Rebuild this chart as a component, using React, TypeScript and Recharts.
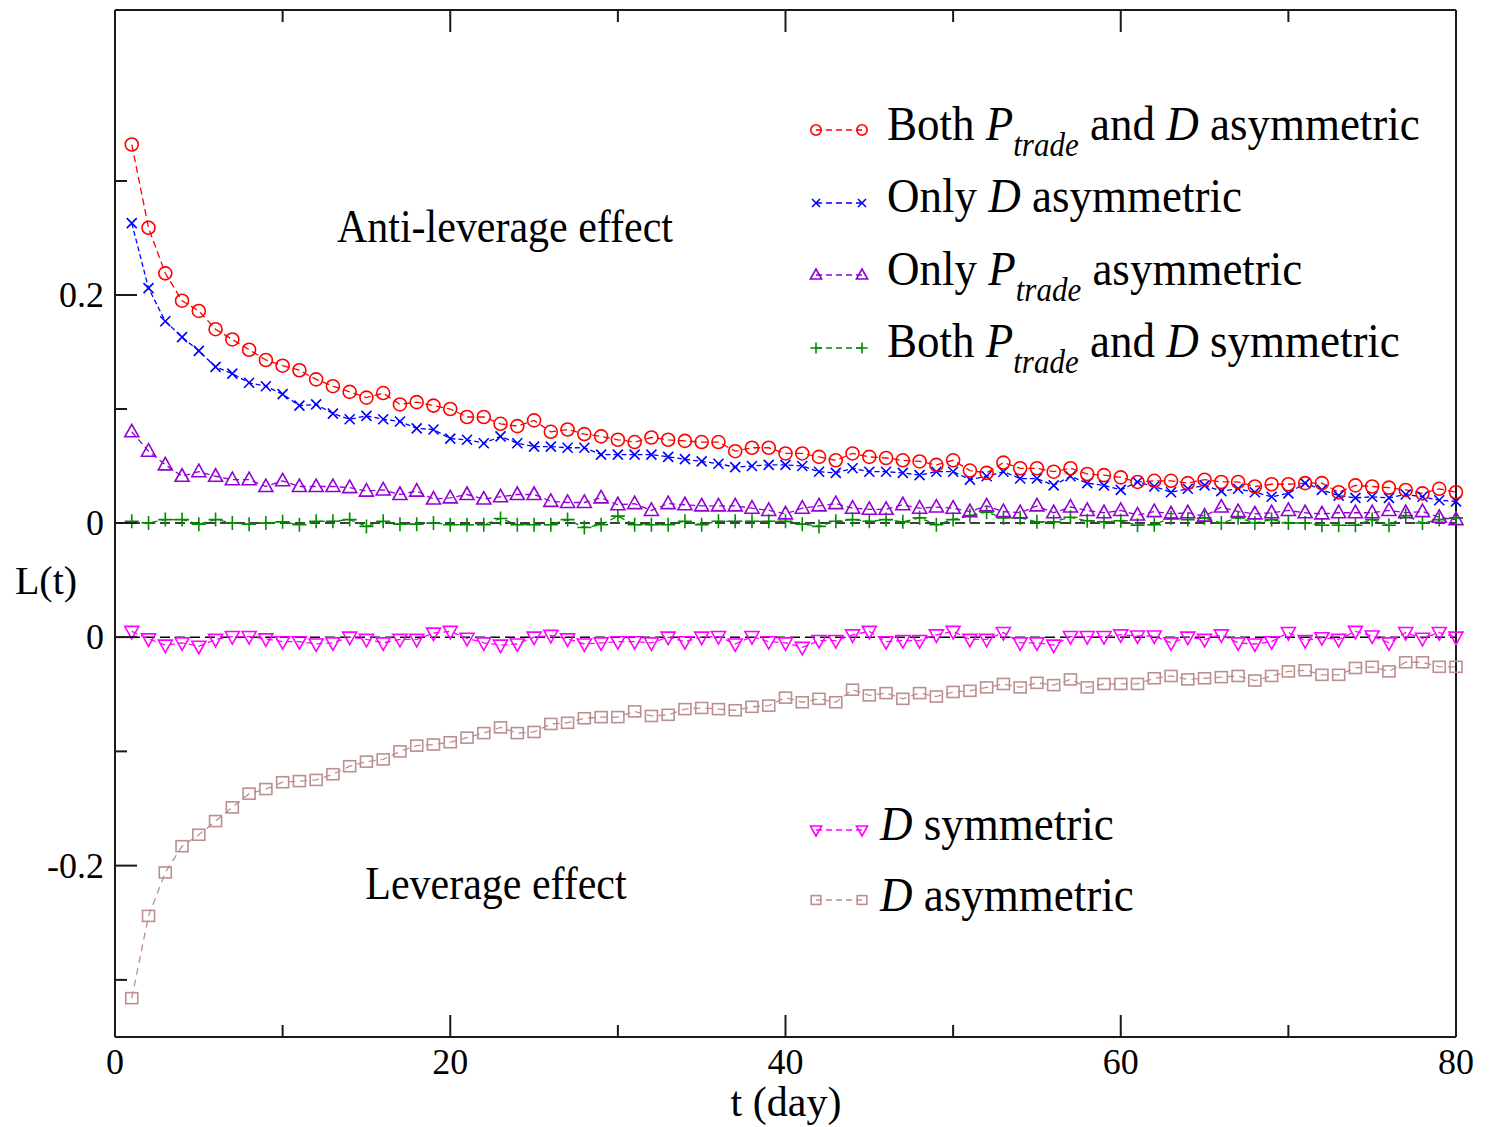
import React from "react";
import { LineChart, Line, XAxis, YAxis, ReferenceLine } from "recharts";

// t in days
const DAYS = Array.from({ length: 80 }, (_, i) => i + 1);

// upper panel
const BOTH_ASYM = [
  0.332, 0.259, 0.219, 0.195, 0.186, 0.17, 0.161, 0.152, 0.143, 0.138,
  0.134, 0.126, 0.12, 0.115, 0.11, 0.114, 0.104, 0.106, 0.103, 0.1,
  0.093, 0.093, 0.087, 0.085, 0.09, 0.08, 0.082, 0.078, 0.076, 0.073,
  0.071, 0.075, 0.073, 0.072, 0.071, 0.071, 0.063, 0.066, 0.066, 0.061,
  0.061, 0.058, 0.055, 0.061, 0.058, 0.057, 0.055, 0.054, 0.051, 0.055,
  0.046, 0.044, 0.053, 0.048, 0.048, 0.045, 0.048, 0.043, 0.042, 0.04,
  0.036, 0.037, 0.037, 0.035, 0.038, 0.036, 0.036, 0.032, 0.034, 0.034,
  0.035, 0.035, 0.027, 0.033, 0.032, 0.031, 0.029, 0.026, 0.03, 0.027,
];
const ONLY_D_ASYM = [
  0.263, 0.206, 0.177, 0.163, 0.151, 0.137, 0.131, 0.123, 0.12, 0.113,
  0.103, 0.104, 0.096, 0.091, 0.094, 0.091, 0.089, 0.083, 0.082, 0.074,
  0.073, 0.07, 0.076, 0.07, 0.067, 0.067, 0.066, 0.066, 0.06, 0.06,
  0.06, 0.06, 0.058, 0.056, 0.054, 0.052, 0.049, 0.05, 0.051, 0.051,
  0.05, 0.045, 0.044, 0.048, 0.045, 0.045, 0.044, 0.042, 0.045, 0.045,
  0.038, 0.041, 0.045, 0.039, 0.039, 0.033, 0.041, 0.035, 0.033, 0.029,
  0.036, 0.032, 0.027, 0.03, 0.033, 0.028, 0.03, 0.027, 0.023, 0.026,
  0.035, 0.029, 0.024, 0.022, 0.023, 0.022, 0.025, 0.023, 0.02, 0.019,
];
const ONLY_P_ASYM = [
  0.08, 0.063, 0.051, 0.041, 0.045, 0.041, 0.038, 0.038, 0.032, 0.037,
  0.032, 0.032, 0.032, 0.031, 0.028, 0.029, 0.025, 0.028, 0.021, 0.022,
  0.025, 0.021, 0.023, 0.025, 0.025, 0.019, 0.018, 0.018, 0.022, 0.016,
  0.017, 0.011, 0.017, 0.016, 0.015, 0.015, 0.015, 0.013, 0.011, 0.008,
  0.013, 0.015, 0.017, 0.013, 0.012, 0.012, 0.016, 0.013, 0.014, 0.013,
  0.01, 0.015, 0.01, 0.009, 0.015, 0.009, 0.014, 0.011, 0.009, 0.011,
  0.007, 0.01, 0.008, 0.009, 0.006, 0.014, 0.01, 0.008, 0.009, 0.011,
  0.009, 0.008, 0.009, 0.009, 0.009, 0.011, 0.009, 0.01, 0.005, 0.003,
];
const BOTH_SYM = [
  0.0015, 0, 0.003, 0.003, -0.001, 0.003, 0, -0.001, 0, 0.001,
  -0.0015, 0.0015, 0.0015, 0.003, -0.003, 0.0015, -0.001, -0.001, 0, -0.0015,
  -0.0015, -0.0015, 0.004, -0.0015, -0.0015, -0.0015, 0.003, -0.004, -0.0015, 0.006,
  -0.0015, -0.0015, -0.0015, 0.0015, -0.0015, 0.0015, 0.0015, 0.0015, 0.0015, 0.0015,
  -0.001, -0.003, 0.0015, 0.003, 0.0015, 0.003, 0.001, 0.0045, -0.0015, 0.003,
  0.0065, 0.0095, 0.0045, 0.0045, 0.001, 0.001, 0.005, 0.002, 0.001, 0.002,
  -0.002, -0.0015, 0.0045, 0.003, 0.0045, 0, 0.0045, 0, 0.003, 0,
  0, -0.002, -0.002, -0.002, 0.003, -0.002, 0.0065, 0, 0.003, 0.0045,
];

// lower panel
const D_SYM = [
  0.005, -0.0015, -0.007, -0.005, -0.008, -0.002, 0.0005, 0.0005, -0.0015, -0.004,
  -0.004, -0.006, -0.005, 0, -0.002, -0.005, -0.002, -0.002, 0.0035, 0.005,
  -0.001, -0.005, -0.007, -0.006, 0, 0.0015, -0.0015, -0.006, -0.005, -0.004,
  -0.004, -0.005, 0, -0.004, 0, 0.0005, -0.006, 0.0005, -0.004, -0.005,
  -0.009, -0.003, -0.003, 0.002, 0.005, -0.004, -0.003, -0.003, 0.002, 0.005,
  -0.002, -0.002, 0.004, -0.005, -0.005, -0.007, 0.0005, 0.0005, 0.0005, 0.002,
  0.001, 0.001, -0.005, 0, -0.002, 0.002, -0.005, -0.006, -0.004, 0.004,
  -0.003, -0.0005, -0.002, 0.005, 0.001, -0.005, 0.004, -0.001, 0.004, 0,
];
const D_ASYM = [
  -0.316, -0.244, -0.206, -0.183, -0.173, -0.161, -0.149, -0.137, -0.133, -0.127,
  -0.126, -0.125, -0.12, -0.113, -0.109, -0.107, -0.1, -0.095, -0.094, -0.092,
  -0.088, -0.084, -0.079, -0.084, -0.083, -0.076, -0.075, -0.071, -0.07, -0.07,
  -0.065, -0.069, -0.068, -0.063, -0.062, -0.063, -0.064, -0.061, -0.06, -0.053,
  -0.057, -0.054, -0.057, -0.046, -0.051, -0.049, -0.054, -0.049, -0.052, -0.048,
  -0.047, -0.044, -0.041, -0.044, -0.04, -0.042, -0.037, -0.044, -0.041, -0.041,
  -0.041, -0.036, -0.034, -0.037, -0.036, -0.035, -0.034, -0.038, -0.034, -0.03,
  -0.029, -0.033, -0.033, -0.027, -0.026, -0.03, -0.022, -0.022, -0.026, -0.026,
];

const X_TICKS = [0, 10, 20, 30, 40, 50, 60, 70, 80];
const X_LABELS = [0, 20, 40, 60, 80];
const TOP_TICKS = [0, 0.1, 0.2, 0.3];
const TOP_LABELS = [0, 0.2];
const BOT_TICKS = [-0.3, -0.2, -0.1, 0];
const BOT_LABELS = [0, -0.2];

const FONT = '"Liberation Serif", "Times New Roman", serif';
const AXIS = "#1a1a1a";
const MAJOR = 22;
const MINOR = 12;

const RED = "#ff0000";
const BLUE = "#0000ff";
const VIOLET = "#9400d3";
const GREEN = "#008b00";
const MAGENTA = "#ff00ff";
const BROWN = "#bc8f8f";

const topData = DAYS.map((t, i) => ({
  t,
  bothAsym: BOTH_ASYM[i],
  onlyD: ONLY_D_ASYM[i],
  onlyP: ONLY_P_ASYM[i],
  bothSym: BOTH_SYM[i],
}));
const bottomData = DAYS.map((t, i) => ({ t, dSym: D_SYM[i], dAsym: D_ASYM[i] }));

const fmt = (v: number) => (Math.abs(v) < 1e-9 ? "0" : String(v));

function Marker({ shape, x, y, color, s = 1 }: any) {
  const w = 1.6;
  switch (shape) {
    case "circle":
      return <circle cx={x} cy={y} r={6.5 * s} fill="none" stroke={color} strokeWidth={w} />;
    case "cross":
      return (
        <path
          d={`M${x - 5 * s},${y - 5 * s}L${x + 5 * s},${y + 5 * s}M${x - 5 * s},${y + 5 * s}L${x + 5 * s},${y - 5 * s}`}
          stroke={color}
          strokeWidth={w}
        />
      );
    case "up":
      return (
        <path
          d={`M${x},${y - 7.5 * s}L${x + 7 * s},${y + 5 * s}L${x - 7 * s},${y + 5 * s}Z`}
          fill="none"
          stroke={color}
          strokeWidth={w}
        />
      );
    case "down":
      return (
        <path
          d={`M${x},${y + 7.5 * s}L${x + 7 * s},${y - 5 * s}L${x - 7 * s},${y - 5 * s}Z`}
          fill="none"
          stroke={color}
          strokeWidth={w}
        />
      );
    case "plus":
      return (
        <path
          d={`M${x - 7 * s},${y}L${x + 7 * s},${y}M${x},${y - 7 * s}L${x},${y + 7 * s}`}
          stroke={color}
          strokeWidth={w}
        />
      );
    default:
      return (
        <rect x={x - 6 * s} y={y - 5.5 * s} width={12 * s} height={11 * s} fill="none" stroke={color} strokeWidth={w} />
      );
  }
}

const dotOf = (shape: string, color: string) => (p: any) => {
  if (p.cx == null || p.cy == null) return <g key={p.index} />;
  return <Marker key={p.index} shape={shape} x={p.cx} y={p.cy} color={color} />;
};

function LeftTick({ x, y, payload, labels }: any) {
  const major = labels.includes(payload.value);
  return (
    <g>
      <line x1={x} y1={y} x2={x + (major ? MAJOR : MINOR)} y2={y} stroke={AXIS} strokeWidth={2} />
      {major && (
        <text x={x - 11} y={y} dy={12} textAnchor="end" fontSize={36} fontFamily={FONT} fill="#000">
          {fmt(payload.value)}
        </text>
      )}
    </g>
  );
}

function RightTick({ x, y, payload, labels }: any) {
  const major = labels.includes(payload.value);
  return <line x1={x} y1={y} x2={x - (major ? MAJOR : MINOR)} y2={y} stroke={AXIS} strokeWidth={2} />;
}

function TopTick({ x, y, payload }: any) {
  const major = X_LABELS.includes(payload.value);
  return <line x1={x} y1={y} x2={x} y2={y + (major ? MAJOR : MINOR)} stroke={AXIS} strokeWidth={2} />;
}

function BottomTick({ x, y, payload }: any) {
  const major = X_LABELS.includes(payload.value);
  return (
    <g>
      <line x1={x} y1={y} x2={x} y2={y - (major ? MAJOR : MINOR)} stroke={AXIS} strokeWidth={2} />
      {major && (
        <text x={x} y={y + 37} textAnchor="middle" fontSize={36} fontFamily={FONT} fill="#000">
          {payload.value}
        </text>
      )}
    </g>
  );
}

function Sample({ y, shape, color }: any) {
  return (
    <g>
      <line x1={816} y1={y} x2={862} y2={y} stroke={color} strokeWidth={1.3} strokeDasharray="6 4" />
      <Marker shape={shape} x={816} y={y} color={color} s={0.8} />
      <Marker shape={shape} x={862} y={y} color={color} s={0.8} />
    </g>
  );
}

// the source text is a little taller than Liberation Serif; stretch it upward from the baseline
function Tall({ y, children }: any) {
  return <g transform={`translate(0 ${y}) scale(1 1.1) translate(0 ${-y})`}>{children}</g>;
}

const axisLine = { stroke: AXIS, strokeWidth: 2 };
const lineProps = { type: "linear" as const, strokeWidth: 1.3, activeDot: false, isAnimationActive: false, yAxisId: "l" };

export default function App() {
  return (
    <div style={{ position: "absolute", left: 0, top: 0, width: 1490, height: 1127, background: "#fff", fontFamily: FONT }}>
      <div style={{ position: "absolute", left: 0, top: 0 }}>
        <LineChart width={1490} height={580} data={topData} margin={{ top: 10, right: 34, bottom: 0, left: 0 }}>
          <XAxis
            dataKey="t"
            type="number"
            domain={[0, 80]}
            orientation="top"
            mirror
            ticks={X_TICKS.slice(1, -1)}
            interval={0}
            tickSize={0}
            tickMargin={0}
            tickLine={false}
            axisLine={axisLine}
            tick={(p: any) => <TopTick {...p} />}
          />
          <YAxis
            yAxisId="l"
            type="number"
            domain={[-0.05, 0.45]}
            ticks={TOP_TICKS}
            interval={0}
            width={115}
            tickSize={0}
            tickMargin={0}
            tickLine={false}
            axisLine={axisLine}
            tick={(p: any) => <LeftTick {...p} labels={TOP_LABELS} />}
          />
          <YAxis
            yAxisId="r"
            orientation="right"
            mirror
            type="number"
            domain={[-0.05, 0.45]}
            ticks={TOP_TICKS}
            interval={0}
            tickSize={0}
            tickMargin={0}
            tickLine={false}
            axisLine={axisLine}
            tick={(p: any) => <RightTick {...p} labels={TOP_LABELS} />}
          />
          <ReferenceLine yAxisId="l" y={0} stroke="#000" strokeWidth={1.5} strokeDasharray="10 5" />
          <Line {...lineProps} dataKey="bothSym" stroke={GREEN} strokeDasharray="6 4" dot={dotOf("plus", GREEN)} />
          <Line {...lineProps} dataKey="onlyP" stroke={VIOLET} strokeDasharray="6 4" dot={dotOf("up", VIOLET)} />
          <Line {...lineProps} dataKey="onlyD" stroke={BLUE} strokeDasharray="5 3" dot={dotOf("cross", BLUE)} />
          <Line {...lineProps} dataKey="bothAsym" stroke={RED} strokeDasharray="7 4" dot={dotOf("circle", RED)} />
        </LineChart>
      </div>

      <div style={{ position: "absolute", left: 0, top: 580 }}>
        <LineChart width={1490} height={547} data={bottomData} margin={{ top: 0, right: 34, bottom: 0, left: 0 }}>
          <XAxis
            dataKey="t"
            type="number"
            domain={[0, 80]}
            ticks={X_TICKS}
            interval={0}
            height={90}
            tickSize={0}
            tickMargin={0}
            tickLine={false}
            axisLine={axisLine}
            tick={(p: any) => <BottomTick {...p} />}
          />
          <YAxis
            yAxisId="l"
            type="number"
            domain={[-0.35, 0.05]}
            ticks={BOT_TICKS}
            interval={0}
            width={115}
            tickSize={0}
            tickMargin={0}
            tickLine={false}
            axisLine={axisLine}
            tick={(p: any) => <LeftTick {...p} labels={BOT_LABELS} />}
          />
          <YAxis
            yAxisId="r"
            orientation="right"
            mirror
            type="number"
            domain={[-0.35, 0.05]}
            ticks={BOT_TICKS}
            interval={0}
            tickSize={0}
            tickMargin={0}
            tickLine={false}
            axisLine={axisLine}
            tick={(p: any) => <RightTick {...p} labels={BOT_LABELS} />}
          />
          <ReferenceLine yAxisId="l" y={0} stroke="#000" strokeWidth={1.5} strokeDasharray="10 5" />
          <Line {...lineProps} dataKey="dAsym" stroke={BROWN} strokeDasharray="7 5" dot={dotOf("square", BROWN)} />
          <Line {...lineProps} dataKey="dSym" stroke={MAGENTA} strokeDasharray="6 4" dot={dotOf("down", MAGENTA)} />
        </LineChart>
      </div>

      <svg
        width={1490}
        height={1127}
        style={{ position: "absolute", left: 0, top: 0, pointerEvents: "none" }}
        fontFamily={FONT}
        fill="#000"
      >
        <text x={46} y={594} fontSize={40} textAnchor="middle">L(t)</text>
        <text x={786} y={1116} fontSize={42} textAnchor="middle">t (day)</text>
        <Tall y={242}>
          <text x={505} y={242} fontSize={42} textAnchor="middle">Anti-leverage effect</text>
        </Tall>
        <Tall y={899}>
          <text x={496} y={899} fontSize={42} textAnchor="middle">Leverage effect</text>
        </Tall>

        <Sample y={130} shape="circle" color={RED} />
        <Tall y={140}>
          <text x={887} y={140} fontSize={45}>
            {"Both "}
            <tspan fontStyle="italic">P</tspan>
            <tspan fontStyle="italic" fontSize={31} dy={15}>trade</tspan>
            <tspan dy={-15}>{" and "}</tspan>
            <tspan fontStyle="italic">D</tspan>
            {" asymmetric"}
          </text>
        </Tall>

        <Sample y={203} shape="cross" color={BLUE} />
        <Tall y={212}>
          <text x={887} y={212} fontSize={45}>
            {"Only "}
            <tspan fontStyle="italic">D</tspan>
            {" asymmetric"}
          </text>
        </Tall>

        <Sample y={275} shape="up" color={VIOLET} />
        <Tall y={285}>
          <text x={887} y={285} fontSize={45}>
            {"Only "}
            <tspan fontStyle="italic">P</tspan>
            <tspan fontStyle="italic" fontSize={31} dy={15}>trade</tspan>
            <tspan dy={-15}>{" asymmetric"}</tspan>
          </text>
        </Tall>

        <Sample y={348} shape="plus" color={GREEN} />
        <Tall y={357}>
          <text x={887} y={357} fontSize={45}>
            {"Both "}
            <tspan fontStyle="italic">P</tspan>
            <tspan fontStyle="italic" fontSize={31} dy={15}>trade</tspan>
            <tspan dy={-15}>{" and "}</tspan>
            <tspan fontStyle="italic">D</tspan>
            {" symmetric"}
          </text>
        </Tall>

        <Sample y={830} shape="down" color={MAGENTA} />
        <Tall y={840}>
          <text x={880} y={840} fontSize={45}>
            <tspan fontStyle="italic">D</tspan>
            {" symmetric"}
          </text>
        </Tall>

        <Sample y={900} shape="square" color={BROWN} />
        <Tall y={911}>
          <text x={880} y={911} fontSize={45}>
            <tspan fontStyle="italic">D</tspan>
            {" asymmetric"}
          </text>
        </Tall>
      </svg>
    </div>
  );
}
